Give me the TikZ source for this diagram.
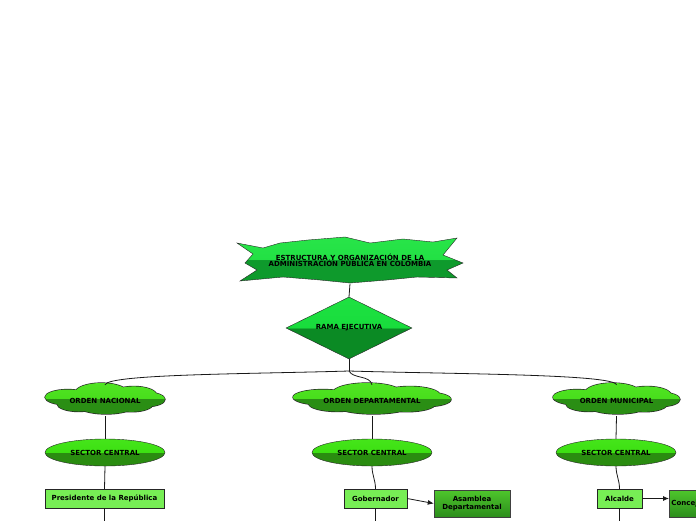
\documentclass[tikz,border=0pt]{standalone}
\usepackage{fontspec}
\setmainfont{DejaVu Sans}
\usetikzlibrary{shapes.geometric,arrows.meta}

\definecolor{starLt}{HTML}{22E044}
\definecolor{starTp}{HTML}{2EEA4E}
\definecolor{starDk}{HTML}{0E9A2C}
\definecolor{rombLt}{HTML}{18DC3C}
\definecolor{rombTp}{HTML}{24E848}
\definecolor{rombDk}{HTML}{0B8A24}
\definecolor{nubeLt}{HTML}{48DE1C}
\definecolor{nubeTp}{HTML}{5AEA2A}
\definecolor{nubeDk}{HTML}{2A8E14}
\definecolor{elipLt}{HTML}{3CE012}
\definecolor{elipTp}{HTML}{4EEA22}
\definecolor{elipDk}{HTML}{2A8C10}
\definecolor{cargoFill}{HTML}{77EE55}
\definecolor{organoTp}{HTML}{4EC62C}
\definecolor{organoDk}{HTML}{2C8E1C}

\pgfdeclareverticalshading{starGloss}{100bp}{color(0bp)=(starDk); color(50bp)=(starDk);
  color(50bp)=(starLt); color(100bp)=(starTp)}
\pgfdeclareverticalshading{rombGloss}{100bp}{color(0bp)=(rombDk); color(50bp)=(rombDk);
  color(50bp)=(rombLt); color(100bp)=(rombTp)}
\pgfdeclareverticalshading{nubeGloss}{100bp}{color(0bp)=(nubeDk); color(50bp)=(nubeDk);
  color(50bp)=(nubeLt); color(100bp)=(nubeTp)}
\pgfdeclareverticalshading{elipGloss}{100bp}{color(0bp)=(elipDk); color(50bp)=(elipDk);
  color(50bp)=(elipLt); color(100bp)=(elipTp)}

% cloud outline: centre x, centre y, width, height
\newcommand{\nubePath}{%
  (-0.62,-0.08) ellipse [x radius=0.38, y radius=0.50]
  (-0.06,-0.36) ellipse [x radius=0.44, y radius=0.64]
  (0.48,-0.22) ellipse [x radius=0.38, y radius=0.56]
  (0.70,0.06) ellipse [x radius=0.30, y radius=0.46]
  (-0.44,0.34) ellipse [x radius=0.36, y radius=0.50]
  (0.02,0.40) ellipse [x radius=0.50, y radius=0.60]
  (0.44,0.36) ellipse [x radius=0.36, y radius=0.50]}
\newcommand{\nube}[4]{%
  \pgfmathsetmacro\nubeA{#3/2}\pgfmathsetmacro\nubeB{#4/2}
  \begin{scope}[shift={(#1,#2)},x=\nubeA pt,y=-\nubeB pt]
    \draw[line width=1.3pt,black!85] \nubePath;
    \shade[shading=nubeGloss] \nubePath;
  \end{scope}}

\tikzset{
  lbl/.style={font=\fontsize{7}{8}\selectfont\bfseries,align=center},
  ordenLbl/.style={lbl,inner sep=0pt,minimum height=31},
  sectorEll/.style={lbl,draw=black!85,shading=elipGloss,ellipse,inner sep=0pt,
    minimum width=120,minimum height=27},
  cargoBox/.style={lbl,draw=black!85,fill=cargoFill,inner sep=0pt,minimum height=19},
  organoBox/.style={lbl,draw=black!75,top color=organoTp,bottom color=organoDk,
    inner sep=0pt,minimum height=27},
  link/.style={black!90,line width=0.8pt},
}

\begin{document}
\begin{tikzpicture}[x=1pt,y=-1pt,>={Latex[length=6pt,width=5pt]}]
    \useasboundingbox (0,0) rectangle (696,520);
    \clip (0,0) rectangle (696,520);

    % title burst
    \shade[shading=starGloss,draw=black!85]
        (245,263) -- (253,254) -- (237,243) -- (263,248) -- (280,243)
        -- (308,240) -- (345,237) -- (370,243) -- (403,239) -- (433,242)
        -- (457,238) -- (443,255) -- (463,263) -- (447,270) -- (457,278)
        -- (417,277) -- (387,280) -- (350,283) -- (320,280) -- (283,277)
        -- (240,281) -- (257,270) -- cycle;
    \node[lbl,minimum width=210,minimum height=46] (titulo) at (350,260.5)
        {ESTRUCTURA Y ORGANIZACIÓN DE LA\\[-1.5pt]ADMINISTRACIÓN PÚBLICA EN COLOMBIA};

    \node[lbl,diamond,draw=black!85,shading=rombGloss,aspect=2,inner sep=0pt,
        minimum width=126,minimum height=62] (rama) at (349,328) {RAMA EJECUTIVA};

    % orden
    \nube{105}{398.5}{120}{31}
    \nube{372}{398.5}{158}{31}
    \nube{616.5}{398.5}{127}{31}
    \node[ordenLbl,minimum width=120] (nac) at (105,400.5) {ORDEN NACIONAL};
    \node[ordenLbl,minimum width=158] (dep) at (372,400.5) {ORDEN DEPARTAMENTAL};
    \node[ordenLbl,minimum width=127] (mun) at (616.5,400.5) {ORDEN MUNICIPAL};

    % sector central
    \node[sectorEll] (secNac) at (105,452.5) {SECTOR CENTRAL};
    \node[sectorEll] (secDep) at (372,452.5) {SECTOR CENTRAL};
    \node[sectorEll] (secMun) at (616,452.5) {SECTOR CENTRAL};

    % cargos
    \node[cargoBox,minimum width=119] (pres) at (104.5,498.5) {Presidente de la República};
    \node[cargoBox,minimum width=63] (gob) at (375.5,498.5) {Gobernador};
    \node[cargoBox,minimum width=45] (alc) at (619.5,498.5) {Alcalde};
    \node[organoBox,minimum width=76] (asam) at (472,503.5) {Asamblea\\[0pt]Departamental};
    \node[organoBox,minimum width=76,anchor=west] (conc) at (669,503.5) {Concejo Municipal};

    \coordinate (split) at (349,371);
    \coordinate (presEnd) at (104.5,525);
    \coordinate (gobEnd) at (375.5,525);
    \coordinate (alcEnd) at (619.5,525);

    \draw[link] (titulo.south) -- (rama.north);
    \draw[link] (rama.south) -- (split);
    \draw[link] (split) .. controls (250,374) and (108,374) .. (nac.north);
    \draw[link] (split) .. controls (353,379) and (370,375) .. (dep.north);
    \draw[link] (split) .. controls (450,374) and (614,374) .. (mun.north);

    \draw[link] (nac.south) -- (secNac.north);
    \draw[link] (dep.south) -- (secDep.north);
    \draw[link] (mun.south) -- (secMun.north);

    \draw[link] (secNac.south) -- (pres.north);
    \draw[link] (secDep.south) to[out=-90,in=90] (gob.north);
    \draw[link] (secMun.south) to[out=-90,in=90] (alc.north);

    \draw[link] (pres.south) -- (presEnd);
    \draw[link] (gob.south) -- (gobEnd);
    \draw[link] (alc.south) -- (alcEnd);

    \draw[link,->] (gob.east) -- (asam.west);
    \draw[link,->] (alc.east) -- (alc.east -| conc.west);
\end{tikzpicture}
\end{document}
